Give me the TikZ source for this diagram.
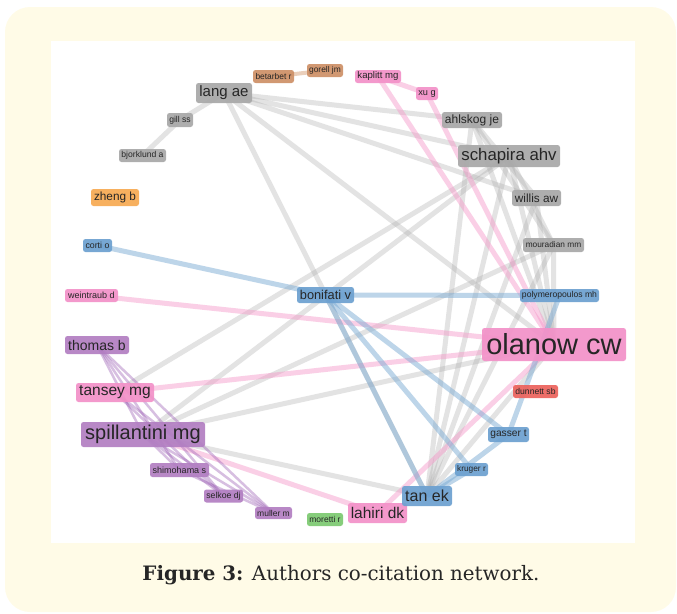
\documentclass[tikz,border=0pt]{standalone}
\usepackage{fontspec}
\setmainfont{Liberation Sans}
\newfontfamily\capfont{DejaVu Serif}
\usepackage{graphicx}
\pgfdeclarelayer{framelayer}
\pgfdeclarelayer{edgelayer}
\pgfsetlayers{framelayer,edgelayer,main}

\definecolor{cream}{RGB}{255,251,231}
\definecolor{ngray}{RGB}{168,168,168}
\definecolor{npink}{RGB}{243,145,200}
\definecolor{nblue}{RGB}{108,160,208}
\definecolor{npurple}{RGB}{178,126,194}
\definecolor{nbrown}{RGB}{206,144,102}
\definecolor{norange}{RGB}{247,170,82}
\definecolor{nred}{RGB}{236,98,92}
\definecolor{ngreen}{RGB}{124,201,112}
\definecolor{txt}{RGB}{38,38,38}
\definecolor{egray}{RGB}{170,170,170}
\definecolor{epink}{RGB}{245,150,200}
\definecolor{eblue}{RGB}{125,172,212}
\definecolor{epurple}{RGB}{155,95,180}
\definecolor{ebrown}{RGB}{215,160,120}
\newcommand\authfs[1]{\fontsize{#1}{#1}\selectfont}

\tikzset{
  au/.style={rounded corners=2.5pt, inner sep=0pt, text=txt, fill opacity=0.92, text opacity=1},
  ge/.style={draw=egray, line width=5pt, draw opacity=0.33},
  pe/.style={draw=epink, line width=5pt, draw opacity=0.45},
  be/.style={draw=eblue, line width=5pt, draw opacity=0.5},
  ue/.style={draw=epurple, line width=2.5pt, draw opacity=0.4},
  re/.style={draw=ebrown, line width=4pt, draw opacity=0.5},
}

\begin{document}
\begin{tikzpicture}[x=1pt,y=-1pt]
\useasboundingbox (0,0) rectangle (677,613);
\begin{pgfonlayer}{framelayer}
  \fill[cream] (5,7) [rounded corners=25pt] rectangle (676,612);
  \fill[white] (51,41) rectangle (635,543);
\end{pgfonlayer}

% nodes
\node[au, fill=nbrown, minimum width=41, minimum height=13, font=\authfs{8.4}] (betarbet) at (273.5,76.5) {betarbet r};
\node[au, fill=nbrown, minimum width=36, minimum height=13, font=\authfs{8.4}] (gorell) at (325,70.5) {gorell jm};
\node[au, fill=ngray, minimum width=56, minimum height=20, font=\authfs{15}] (lang) at (224,93) {lang ae};
\node[au, fill=ngray, minimum width=26, minimum height=14, font=\authfs{8.6}] (gill) at (180,120) {gill ss};
\node[au, fill=ngray, minimum width=47, minimum height=13, font=\authfs{8.6}] (bjork) at (142.5,155.5) {bjorklund a};
\node[au, fill=norange, minimum width=48, minimum height=17, font=\authfs{11.8}] (zheng) at (115,197.5) {zheng b};
\node[au, fill=nblue, minimum width=29, minimum height=13, font=\authfs{8.8}] (corti) at (97.5,245.5) {corti o};
\node[au, fill=npink, minimum width=53, minimum height=13, font=\authfs{9}] (weintraub) at (91.5,295.5) {weintraub d};
\node[au, fill=npurple, minimum width=64, minimum height=18, font=\authfs{14}] (thomas) at (97,345) {thomas b};
\node[au, fill=npink, minimum width=78, minimum height=19, font=\authfs{15.5}] (tansey) at (115,392.5) {tansey mg};
\node[au, fill=npurple, minimum width=124, minimum height=25, font=\authfs{20}] (spill) at (143,434.5) {spillantini mg};
\node[au, fill=npurple, minimum width=59, minimum height=14, font=\authfs{9}] (shimo) at (179.5,470) {shimohama s};
\node[au, fill=npurple, minimum width=39, minimum height=13, font=\authfs{8.7}] (selkoe) at (223.5,496) {selkoe dj};
\node[au, fill=npurple, minimum width=37, minimum height=12, font=\authfs{8.5}] (muller) at (273.5,513) {muller m};
\node[au, fill=ngreen, minimum width=36, minimum height=13, font=\authfs{8.5}] (moretti) at (325,519.5) {moretti r};
\node[au, fill=npink, minimum width=59, minimum height=20, font=\authfs{15.5}] (lahiri) at (377.5,513) {lahiri dk};
\node[au, fill=nblue, minimum width=50, minimum height=20, font=\authfs{16}] (tanek) at (427,496) {tan ek};
\node[au, fill=nblue, minimum width=33, minimum height=13, font=\authfs{8.3}] (kruger) at (471.5,469.5) {kruger r};
\node[au, fill=nblue, minimum width=41, minimum height=15, font=\authfs{10.2}] (gasser) at (508.5,434.5) {gasser t};
\node[au, fill=nred, minimum width=45, minimum height=13, font=\authfs{8.6}] (dunnett) at (535.5,391.5) {dunnett sb};
\node[au, fill=npink, minimum width=144, minimum height=33, font=\authfs{29}] (olanow) at (554,344.5) {olanow cw};
\node[au, fill=nblue, minimum width=79, minimum height=13, font=\authfs{8.6}] (poly) at (559.5,295.5) {polymeropoulos mh};
\node[au, fill=nblue, minimum width=57, minimum height=16, font=\authfs{12.8}] (bonifati) at (325.5,295) {bonifati v};
\node[au, fill=ngray, minimum width=61, minimum height=14, font=\authfs{8.3}] (mourad) at (553.5,245) {mouradian mm};
\node[au, fill=ngray, minimum width=49, minimum height=16, font=\authfs{11.8}] (willis) at (536.5,198) {willis aw};
\node[au, fill=ngray, minimum width=102, minimum height=22, font=\authfs{16.8}] (schapira) at (509,156) {schapira ahv};
\node[au, fill=ngray, minimum width=60, minimum height=16, font=\authfs{12}] (ahlskog) at (472,120) {ahlskog je};
\node[au, fill=npink, minimum width=22, minimum height=13, font=\authfs{9.2}] (xug) at (427,93.5) {xu g};
\node[au, fill=npink, minimum width=46, minimum height=13, font=\authfs{9.6}] (kaplitt) at (378,76.5) {kaplitt mg};

% caption
\node[text=txt] (caption) at (341,575) {\resizebox{397pt}{!}{\capfont\textbf{Figure 3:} Authors co-citation network.}};

% edges
\begin{pgfonlayer}{edgelayer}
  \draw[re] (betarbet.center) -- (gorell.center);
  % gray
  \draw[ge] (lang.center) -- (gill.center);
  \draw[ge] (gill.center) -- (bjork.center);
  \draw[ge] (lang.center) -- (ahlskog.center);
  \draw[ge] (lang.center) -- (schapira.center);
  \draw[ge] (lang.center) -- (willis.center);
  \draw[ge] (lang.center) -- (olanow.center);
  \draw[ge] (lang.center) -- (tanek.center);
  \draw[ge] (spill.center) -- (schapira.center);
  \draw[ge] (tansey.center) -- (schapira.center);
  \draw[ge] (spill.center) -- (mourad.center);
  \draw[ge] (spill.center) -- (olanow.center);
  \draw[ge] (spill.center) -- (tanek.center);
  \draw[ge] (ahlskog.center) -- (olanow.center);
  \draw[ge] (schapira.center) -- (olanow.center);
  \draw[ge] (willis.center) -- (olanow.center);
  \draw[ge] (mourad.center) -- (olanow.center);
  \draw[ge] (ahlskog.center) -- (tanek.center);
  \draw[ge] (schapira.center) -- (tanek.center);
  \draw[ge] (willis.center) -- (tanek.center);
  \draw[ge] (mourad.center) -- (tanek.center);
  \draw[ge] (ahlskog.center) -- (willis.center);
  \draw[ge] (ahlskog.center) -- (mourad.center);
  \draw[ge] (schapira.center) -- (mourad.center);
  \draw[ge] (olanow.center) -- (tanek.center);
  % pink
  \draw[pe] (kaplitt.center) -- (xug.center);
  \draw[pe] (kaplitt.center) -- (olanow.center);
  \draw[pe] (xug.center) -- (olanow.center);
  \draw[pe] (weintraub.center) -- (olanow.center);
  \draw[pe] (tansey.center) -- (olanow.center);
  \draw[pe] (spill.center) -- (lahiri.center);
  \draw[pe] (lahiri.center) -- (olanow.center);
  % blue
  \draw[be] (corti.center) -- (bonifati.center);
  \draw[be] (bonifati.center) -- (poly.center);
  \draw[be] (bonifati.center) -- (tanek.center);
  \draw[be] (bonifati.center) -- (kruger.center);
  \draw[be] (bonifati.center) -- (gasser.center);
  \draw[be] (poly.center) -- (gasser.center);
  \draw[be] (gasser.center) -- (tanek.center);
  \draw[be] (kruger.center) -- (tanek.center);
  % purple
  \draw[ue] (thomas.center) -- (spill.center);
  \draw[ue] (thomas.center) -- (shimo.center);
  \draw[ue] (thomas.center) -- (selkoe.center);
  \draw[ue] (thomas.center) -- (muller.center);
  \draw[ue] (spill.center) -- (shimo.center);
  \draw[ue] (spill.center) -- (selkoe.center);
  \draw[ue] (spill.center) -- (muller.center);
  \draw[ue] (shimo.center) -- (muller.center);
  \draw[ue] (tansey.center) -- (muller.center);
  \draw[ue] (tansey.center) -- (selkoe.center);
\end{pgfonlayer}
\end{tikzpicture}
\end{document}
